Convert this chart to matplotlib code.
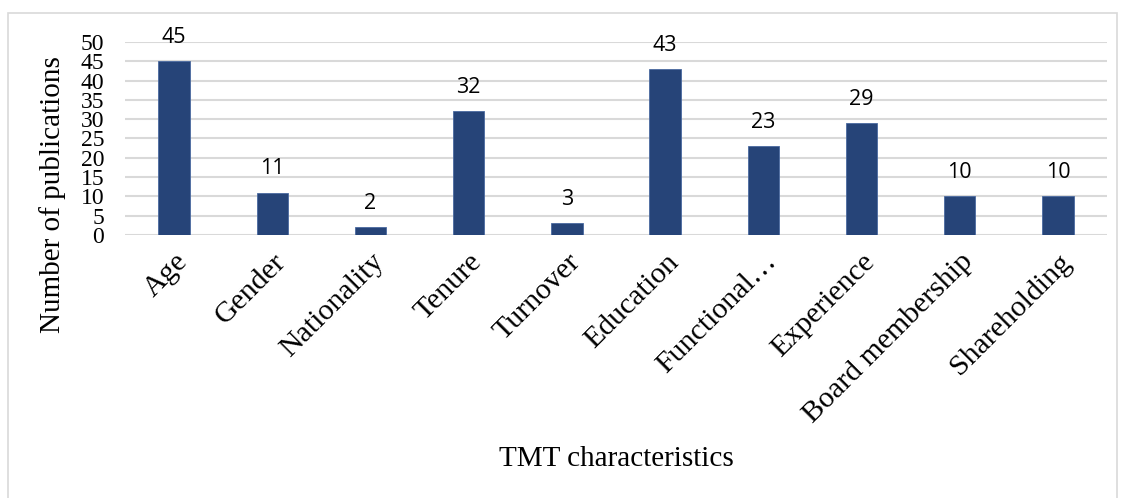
import matplotlib
matplotlib.use("Agg")
import matplotlib.pyplot as plt
from matplotlib.patches import Rectangle

categories = ["Age", "Gender", "Nationality", "Tenure", "Turnover", "Education",
              "Functional…", "Experience", "Board membership", "Shareholding"]
publications = [45, 11, 2, 32, 3, 43, 23, 29, 10, 10]
y_ticks = [0, 5, 10, 15, 20, 25, 30, 35, 40, 45, 50]

W, H = 1126, 498
fig = plt.figure(figsize=(W / 100, H / 100), dpi=100)
fig.patch.set_facecolor("white")

# chart frame
fig.patches.append(Rectangle((8 / W, -0.1), (1117 - 8) / W, 1.1 - 13 / H,
                             transform=fig.transFigure, fill=False,
                             edgecolor="#d9d9d9", linewidth=1.2))

ax = fig.add_axes([125 / W, 1 - 235 / H, (1107 - 125) / W, (235 - 42) / H])
x = list(range(len(categories)))
ax.bar(x, publications, width=0.32, color="#264478",
       edgecolor="#4a6aa0", linewidth=0.6, zorder=3)

for xi, v in zip(x, publications):
    ax.text(xi, v + 4.7, str(v), ha="center", va="baseline",
            fontsize=15.5, family="Open Sans", color="black")

ax.set_xlim(-0.5, len(categories) - 0.5)
ax.set_ylim(0, 50)
ax.set_yticks(y_ticks)
ax.set_yticklabels([str(t) for t in y_ticks], family="Liberation Serif", fontsize=17)
ax.set_xticks(x)
ax.set_xticklabels(categories, rotation=45, ha="right", rotation_mode="anchor",
                   family="Liberation Serif", fontsize=21.5)
ax.tick_params(axis="both", length=0)
ax.tick_params(axis="y", pad=15)
ax.tick_params(axis="x", pad=10)
ax.yaxis.grid(True, color="#d9d9d9", linewidth=1.5, zorder=0)
for s in ax.spines.values():
    s.set_visible(False)

fig.text(53 / W, 1 - 195 / H, "Number of publications", rotation=90,
         ha="center", va="center", family="Liberation Serif", fontsize=21)
fig.text(616 / W, 1 - 459 / H, "TMT characteristics", ha="center", va="center",
         family="Liberation Serif", fontsize=21)

fig.savefig("out.png", dpi=100)
